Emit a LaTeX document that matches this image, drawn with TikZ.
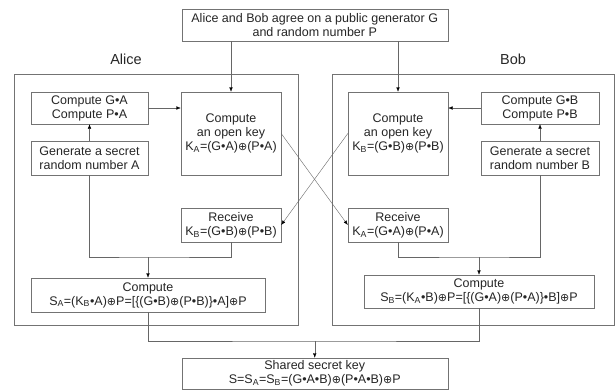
\documentclass[tikz,border=0pt]{standalone}
\usepackage{fontspec}
\setmainfont{Liberation Sans}
\newfontfamily\symfont{DejaVu Sans}
\usepackage{tikz}
\usetikzlibrary{arrows.meta, positioning}
\newcommand{\xorop}{{\symfont\fontsize{11}{14}\selectfont ⊕}}
\newcommand{\bd}{\textbullet}
\tikzset{
    box/.style={rectangle, draw=black!55, fill=white, align=center, inner sep=1pt, text=black!85, font=\fontsize{12.5}{14}\selectfont},
    frame/.style={rectangle, draw=black!55, inner sep=0pt},
    party/.style={text=black!85, font=\fontsize{14.5}{16}\selectfont},
    line/.style={draw=black!60},
    arrow/.style={draw=black!60, -{Latex[length=4.5pt,width=3.5pt,color=black]}}
}

\begin{document}
\begin{tikzpicture}[x=1pt, y=-1pt]
    \useasboundingbox (0,0) rectangle (616,391);

    % the two parties
    \node (aliceframe) [frame, minimum width=284pt, minimum height=251pt] at (156,199.5) {};
    \node (bobframe) [frame, minimum width=282pt, minimum height=251pt] at (473,199.5) {};
    \node (alice) [party] at (126,59) {Alice};
    \node (bob) [party] at (513,59) {Bob};

    \node (agree) [box, minimum width=266pt, minimum height=32pt] at (314.75,25) {Alice and Bob agree on a public generator G\\and random number P};

    % Alice
    \node (gpa) [box, minimum width=117pt, minimum height=32pt] at (89.5,108) {Compute G\bd A\\Compute P\bd A};
    \node (gena) [box, minimum width=117pt, minimum height=34pt] at (89.5,158) {Generate a secret\\random number A};
    \node (opena) [box, minimum width=100pt, minimum height=83pt] at (231,133.5) {Compute\\an open key\\K\textsubscript{A}=(G\bd A)\xorop(P\bd A)};
    \node (recvb) [box, minimum width=100pt, minimum height=34pt] at (231,225) {Receive\\K\textsubscript{B}=(G\bd B)\xorop(P\bd B)};
    \node (sa) [box, minimum width=234pt, minimum height=34pt] at (148,295) {Compute\\S\textsubscript{A}=(K\textsubscript{B}\bd A)\xorop P=[\{(G\bd B)\xorop(P\bd B)\}\bd A]\xorop P};

    % Bob
    \node (gpb) [box, minimum width=118pt, minimum height=32pt] at (540,108) {Compute G\bd B\\Compute P\bd B};
    \node (genb) [box, minimum width=118pt, minimum height=34pt] at (540,158) {Generate a secret\\random number B};
    \node (openb) [box, minimum width=100pt, minimum height=83pt] at (398,133.5) {Compute\\an open key\\K\textsubscript{B}=(G\bd B)\xorop(P\bd B)};
    \node (recva) [box, minimum width=100pt, minimum height=34pt] at (398,225) {Receive\\K\textsubscript{A}=(G\bd A)\xorop(P\bd A)};
    \node (sb) [box, minimum width=230pt, minimum height=33pt] at (479,291.5) {Compute\\S\textsubscript{B}=(K\textsubscript{A}\bd B)\xorop P=[\{(G\bd A)\xorop(P\bd A)\}\bd B]\xorop P};

    \node (shared) [box, minimum width=266pt, minimum height=31pt] at (314.75,373.5) {Shared secret key\\S=S\textsubscript{A}=S\textsubscript{B}=(G\bd A\bd B)\xorop(P\bd A\bd B)\xorop P};

    \coordinate (joina) at (148,257);
    \coordinate (joinb) at (479,257);
    \coordinate (joins) at (314.75,341);

    \draw [arrow] (agree.south -| opena) -- (opena);
    \draw [arrow] (agree.south -| openb) -- (openb);
    \draw [arrow] (gpa.east) -- (gpa.east -| opena.west);
    \draw [arrow] (gpb.west) -- (gpb.west -| openb.east);
    \draw [arrow] (gena) -- (gpa);
    \draw [arrow] (genb) -- (gpb);

    % exchange of the open keys
    \draw [arrow] (opena.east) -- (recva.west);
    \draw [arrow] (openb.west) -- (recvb.east);

    \draw [line] (gena.south) |- (joina) -| (recvb.south);
    \draw [arrow] (joina) -- (sa);
    \draw [line] (recva.south) |- (joinb) -| (genb.south);
    \draw [arrow] (joinb) -- (sb);
    \draw [line] (sa.south) |- (joins) -| (sb.south);
    \draw [arrow] (joins) -- (shared);
\end{tikzpicture}
\end{document}
